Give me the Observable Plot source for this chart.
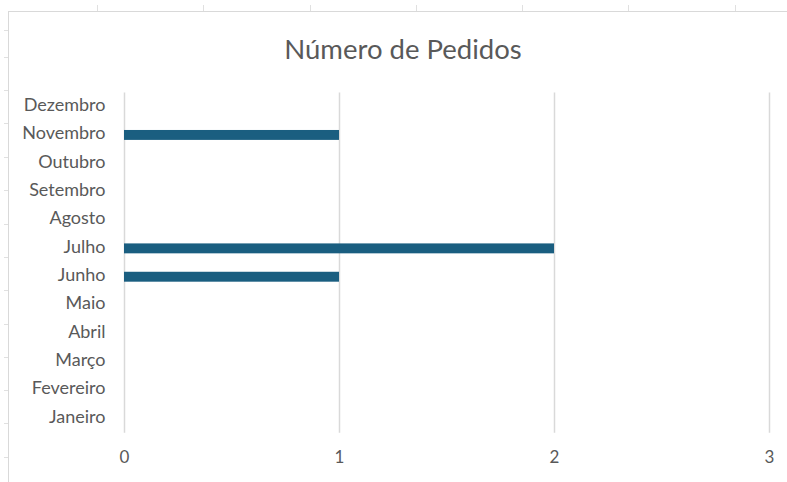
<!DOCTYPE html>
<html>
<head>
<meta charset="utf-8">
<script src="https://cdn.jsdelivr.net/npm/d3@7"></script>
<script src="https://cdn.jsdelivr.net/npm/@observablehq/plot@0.6"></script>
<style>
  html, body { margin: 0; padding: 0; background: #fff; }
  #wrap { position: relative; width: 787px; height: 482px; overflow: hidden; font-family: Lato, "Open Sans", sans-serif; }
  #frame { position: absolute; left: 8px; top: 11px; width: 800px; height: 480px; border-left: 1px solid #d9d9d9; border-top: 1px solid #d9d9d9; }
  .tk { position: absolute; background: #e0e0e0; }
  #title { position: absolute; left: 0; width: 806px; top: 33px; text-align: center; font-size: 27.5px; color: #595959; line-height: 32px; }
  #chart { position: absolute; left: 0; top: 0; }
</style>
</head>
<body>
<div id="wrap">
  <div id="frame"></div>
  <div id="title">Número de Pedidos</div>
  <div id="chart"></div>
</div>
<script>
const months = ["Janeiro","Fevereiro","Março","Abril","Maio","Junho","Julho","Agosto","Setembro","Outubro","Novembro","Dezembro"];
const pedidos = [0,0,0,0,0,1,2,0,0,0,1,0];
const xTicks = [0,1,2,3];

const data = months.map((m, i) => ({mes: m, n: pedidos[i]}));

// spreadsheet column/row tick marks around the frame
const wrap = document.getElementById("wrap");
[97,203,310,416,522,628,735].forEach(x => {
  const d = document.createElement("div"); d.className = "tk";
  Object.assign(d.style, {left: x + "px", top: "5px", width: "1px", height: "6px"});
  wrap.appendChild(d);
});
[30,57,90,123,157,190,224,257,290,324,357,390,423,457].forEach(y => {
  const d = document.createElement("div"); d.className = "tk";
  Object.assign(d.style, {left: "4px", top: y + "px", width: "4px", height: "1px"});
  wrap.appendChild(d);
});

const chart = Plot.plot({
  width: 787,
  height: 482,
  marginLeft: 124,
  marginRight: 18,
  marginTop: 92.4,
  marginBottom: 49.3,
  style: {fontFamily: "Lato, 'Open Sans', sans-serif", fontSize: "18px", color: "#595959", background: "transparent"},
  x: {domain: [0, 3], ticks: xTicks, label: null},
  y: {domain: months.slice().reverse(), label: null, paddingInner: 0.65, paddingOuter: 0.325, round: false},
  marks: [
    Plot.gridX(xTicks, {stroke: "#d9d9d9", strokeOpacity: 1, strokeWidth: 1.5}),
    Plot.barX(data, {x: "n", y: "mes", fill: "#1a5e80"}),
    Plot.axisX({ticks: xTicks, tickFormat: d => String(d), tickSize: 0, tickPadding: 18, fill: "#595959", fontSize: 17, label: null}),
    Plot.axisY({tickSize: 0, tickPadding: 19, dy: -2, fill: "#595959", fontSize: 18, label: null})
  ]
});
document.getElementById("chart").appendChild(chart);
</script>
</body>
</html>
